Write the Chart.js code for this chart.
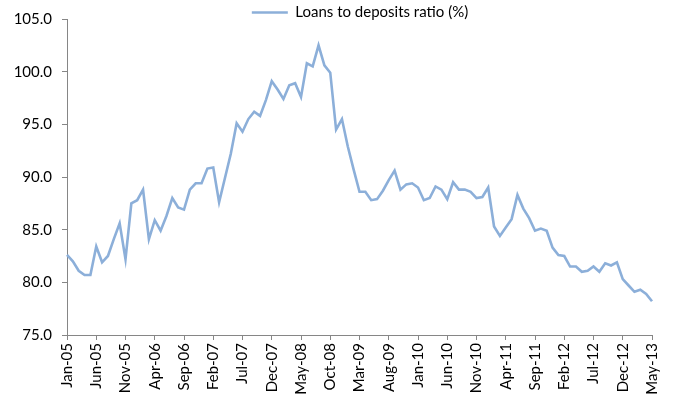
<!DOCTYPE html>
<html>
<head>
<meta charset="utf-8">
<script src="https://cdn.jsdelivr.net/npm/chart.js@4"></script>
<style>
  html, body { margin: 0; padding: 0; background: #fff; }
  #wrap { width: 673px; height: 407px; }
</style>
</head>
<body>
<div id="wrap"><canvas id="ldr"></canvas></div>
<script>
// monthly loans-to-deposits ratio, Jan-05 .. May-13
const monthNames = ['Jan', 'Feb', 'Mar', 'Apr', 'May', 'Jun', 'Jul', 'Aug', 'Sep', 'Oct', 'Nov', 'Dec'];
const firstYear = 2005;
const monthCount = 101;
const labelEvery = 5;

const ratio = [
  82.6, 82.0, 81.1, 80.7, 80.7, 83.4, 81.9, 82.5, 84.1, 85.6,
  82.2, 87.5, 87.8, 88.8, 84.1, 85.9, 84.9, 86.3, 88.0, 87.1,
  86.9, 88.8, 89.4, 89.4, 90.8, 90.9, 87.6, 89.9, 92.2, 95.1,
  94.3, 95.5, 96.2, 95.8, 97.3, 99.1, 98.3, 97.4, 98.7, 98.9,
  97.6, 100.8, 100.5, 102.5, 100.6, 99.9, 94.5, 95.5, 92.9, 90.7,
  88.6, 88.6, 87.8, 87.9, 88.7, 89.7, 90.6, 88.8, 89.3, 89.4,
  89.0, 87.8, 88.0, 89.1, 88.8, 87.9, 89.5, 88.8, 88.8, 88.6,
  88.0, 88.1, 89.0, 85.3, 84.4, 85.2, 86.0, 88.3, 87.0, 86.1,
  84.9, 85.1, 84.9, 83.3, 82.6, 82.5, 81.5, 81.5, 81.0, 81.1,
  81.5, 81.0, 81.8, 81.6, 81.9, 80.3, 79.7, 79.1, 79.3, 78.9,
  78.2
];

const yMin = 75, yMax = 105, yStep = 5;

const months = [];
for (let i = 0; i < monthCount; i++) {
  const yy = String((firstYear + Math.floor(i / 12)) % 100).padStart(2, '0');
  months.push(monthNames[i % 12] + '-' + yy);
}

const axisGrey = '#868686';
const lineBlue = '#8cafd9';
const font = { family: 'Lato', size: 15 };

// legend strip is kept tight; move its drawing box down and right a little
const legendTweak = {
  id: 'legendTweak',
  afterLayout(chart) {
    const lg = chart.legend;
    if (!lg) return;
    lg.left += 33;
    lg.right += 33;
    lg.top += 11;
    lg.bottom += 15;
  }
};

new Chart(document.getElementById('ldr'), {
  type: 'line',
  data: {
    labels: months,
    datasets: [{
      label: 'Loans to deposits ratio (%)',
      data: ratio,
      borderColor: lineBlue,
      backgroundColor: lineBlue,
      borderWidth: 2.6,
      pointRadius: 0,
      pointStyle: 'line',
      tension: 0
    }]
  },
  options: {
    responsive: true,
    maintainAspectRatio: false,
    animation: false,
    layout: { padding: { left: 0, right: 19, top: -7, bottom: 0 } },
    plugins: {
      legend: {
        position: 'top',
        labels: {
          color: '#000',
          font: font,
          usePointStyle: true,
          pointStyleWidth: 36,
          padding: 1
        }
      },
      tooltip: { enabled: false }
    },
    scales: {
      x: {
        offset: false,
        grid: { display: true, drawOnChartArea: false, drawTicks: true, tickLength: 5, color: axisGrey },
        border: { display: true, color: axisGrey, width: 1 },
        ticks: {
          autoSkip: false,
          maxRotation: 90,
          minRotation: 90,
          padding: 3,
          color: '#000',
          font: font,
          callback: function (v, i) { return i % labelEvery === 0 ? this.getLabelForValue(v) : null; }
        },
        afterFit(scale) { scale.height = 72; }
      },
      y: {
        min: yMin,
        max: yMax,
        grid: { display: true, drawOnChartArea: false, drawTicks: true, tickLength: 5, color: axisGrey },
        border: { display: true, color: axisGrey, width: 1 },
        ticks: {
          stepSize: yStep,
          padding: 10,
          color: '#000',
          font: font,
          callback: v => v.toFixed(1)
        },
        afterFit(scale) { scale.width = 67; }
      }
    }
  },
  plugins: [legendTweak]
});
</script>
</body>
</html>
